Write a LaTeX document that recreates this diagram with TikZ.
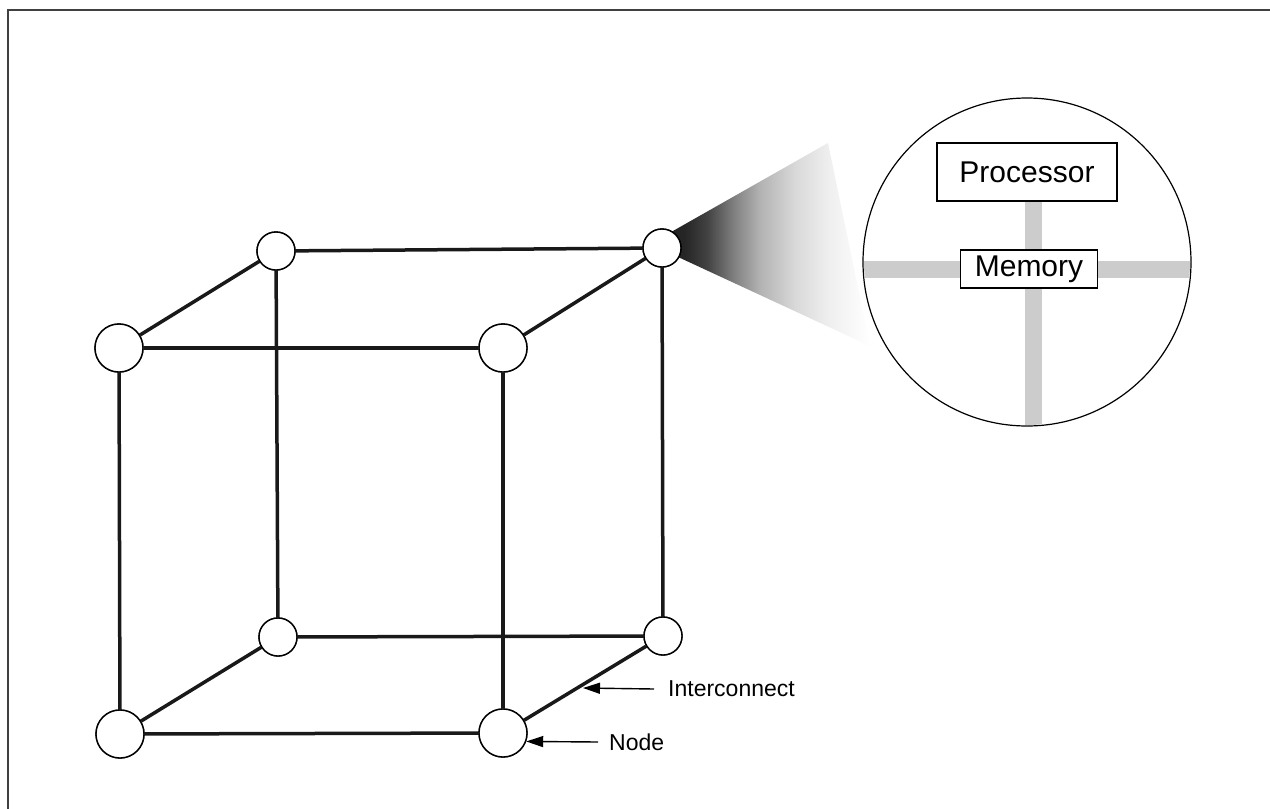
\documentclass[tikz,border=0pt]{standalone}
\usepackage{fontspec}
\setmainfont{Liberation Sans}
\usetikzlibrary{arrows.meta,calc}
\pgfdeclarehorizontalshading{conefade}{100bp}{color(0bp)=(black!90); color(25bp)=(black!90); color(33bp)=(black!85); color(38bp)=(black!74); color(44bp)=(black!50); color(50bp)=(black!30); color(58bp)=(black!15); color(66bp)=(black!6); color(75bp)=(white); color(100bp)=(white)}
\begin{document}
\begin{tikzpicture}[x=1pt,y=-1pt,
  edge/.style={line width=3.5pt,black!90},
  bignode/.style={circle,draw,line width=1.4pt,fill=white,minimum size=48pt,inner sep=0pt},
  smallnode/.style={circle,draw,line width=1.4pt,fill=white,minimum size=38pt,inner sep=0pt},
  box/.style={draw,line width=1.2pt,fill=white,font=\fontsize{30}{34}\selectfont,inner sep=0pt},
  lbl/.style={font=\fontsize{23}{27}\selectfont,anchor=west,inner sep=0pt},
  pointer/.style={line width=1.4pt,-{Triangle[length=17pt,width=11pt]}},
  bar/.style={line width=17pt,black!20}]
\useasboundingbox (0,0) rectangle (1270,809);
\fill[white] (0,0) rectangle (1270,809);
% frame
\draw[line width=1.5pt,black!75] (8,809) -- (8,10) -- (1270,10);

% zoom cone
\shade[shading=conefade] (650,244) -- (828,143) -- (870,346) -- cycle;

% cube nodes
\node[bignode]   (ftl) at (119,348) {};
\node[bignode]   (ftr) at (503,348) {};
\node[bignode]   (fbl) at (120,734) {};
\node[bignode]   (fbr) at (503,733) {};
\node[smallnode] (btl) at (276,251) {};
\node[smallnode] (btr) at (662,248) {};
\node[smallnode] (bbl) at (278,637) {};
\node[smallnode] (bbr) at (663,636) {};

% edges
\draw[edge] (ftl) -- (ftr);
\draw[edge] (fbl) -- (fbr);
\draw[edge] (ftl) -- (fbl);
\draw[edge] (ftr) -- (fbr);
\draw[edge] (btl) -- (btr);
\draw[edge] (bbl) -- (bbr);
\draw[edge] (btl) -- (bbl);
\draw[edge] (btr) -- (bbr);
\draw[edge] (ftl) -- (btl);
\draw[edge] (ftr) -- (btr);
\draw[edge] (fbl) -- (bbl);
\draw[edge] (fbr) -- (bbr);
% redraw nodes on top
\foreach \n/\s in {ftl/bignode,ftr/bignode,fbl/bignode,fbr/bignode,btl/smallnode,btr/smallnode,bbl/smallnode,bbr/smallnode}
  \node[\s] at (\n) {};

% magnified circle
\node[circle,draw,line width=1.2pt,fill=white,minimum size=328pt,inner sep=0pt] (zoom) at (1027,262) {};
\begin{scope}
  \clip (1027,262) circle (163pt);
  \draw[bar] (1033,200) -- (1033,430);
  \draw[bar] (860,269) -- (1195,269);
\end{scope}
\node[box,minimum width=180pt,minimum height=58pt] (proc) at (1027,172) {Processor};
\node[box,minimum width=137pt,minimum height=38pt] (mem) at (1029,269) {Memory};

% labels
\coordinate (icpt) at (583,688);
\node[lbl] (ic) at (668,689) {Interconnect};
\draw[pointer] (ic.west) ++(-14,0) -- (icpt);
\node[lbl] (nd) at (609,742) {Node};
\draw[pointer] (nd.west) ++(-11,0) -- (fbr.-20);
\end{tikzpicture}
\end{document}
